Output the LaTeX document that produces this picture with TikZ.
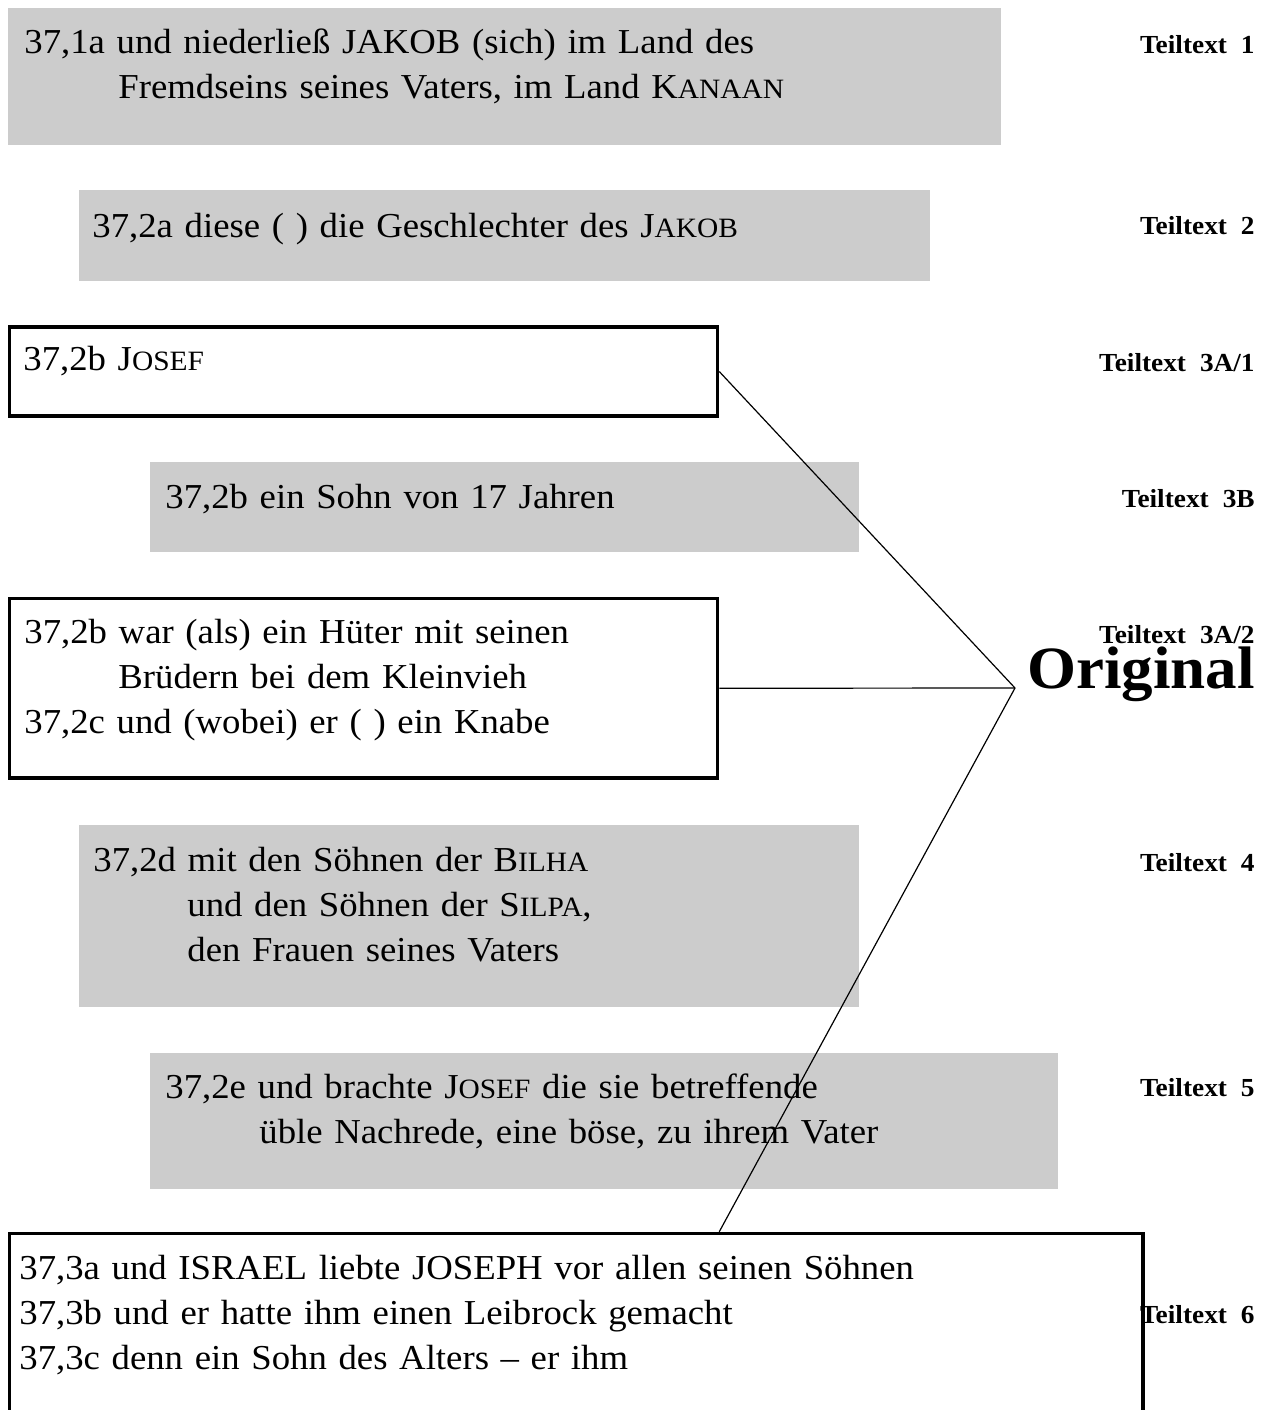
\documentclass[tikz,border=0pt]{standalone}
\usepackage{fontspec}
\setmainfont{Liberation Serif}[WordSpace=1.8,FakeStretch=1.05]
\usetikzlibrary{calc}
\definecolor{feldgrau}{gray}{0.8}
\newcommand{\kap}[2]{#1{\fontsize{14}{22.5}\selectfont #2}}
\newcommand{\teil}[1]{Teiltext\hspace{7pt}#1}
\newcommand{\weiter}{\hspace*{47pt}}

\begin{document}
\begin{tikzpicture}[x=0.5pt,y=-0.5pt,font=\fontsize{17.5}{22.5}\selectfont]
  \tikzset{
    feld/.style={fill=feldgrau,inner sep=0pt,outer sep=0pt,anchor=north west},
    rahmen/.style={draw,line width=1.75pt,inner sep=0pt,anchor=north west},
    zeilen/.style={anchor=base west,inner sep=0pt,align=left,text width=520pt},
    teil/.style={anchor=base east,inner sep=0pt,font=\bfseries\fontsize{13}{15}\selectfont},
    linie/.style={line width=0.6pt}
  }
  \useasboundingbox (0,0) rectangle (1274,1410);

  % grey and framed boxes, top to bottom
  \node[feld,minimum width=496.5pt,minimum height=68.5pt] (b1) at (8,8) {};
  \node[feld,minimum width=425.5pt,minimum height=45.5pt] (b2) at (79,190) {};
  \node[rahmen,minimum width=354pt,minimum height=44.5pt] (b3) at (7.75,325.25) {};
  \node[feld,minimum width=354.5pt,minimum height=45pt] (b4) at (150,462) {};
  \node[rahmen,minimum width=354pt,minimum height=89.75pt] (b5) at (7.75,596.75) {};
  \node[feld,minimum width=390pt,minimum height=91pt] (b6) at (79,825) {};
  \node[feld,minimum width=454pt,minimum height=68pt] (b7) at (150,1053) {};
  \node[rahmen,minimum width=566.75pt,minimum height=130pt] (b8) at (7.75,1231.75) {};

  % verse texts
  \node[zeilen] (t1) at (24,53)
    {37,1a und niederließ JAKOB (sich) im Land des\\
     \weiter Fremdseins seines Vaters, im Land \kap{K}{ANAAN}};
  \node[zeilen] (t2) at (92,237)
    {37,2a diese ( ) die Geschlechter des \kap{J}{AKOB}};
  \node[zeilen] (t3) at (23,370)
    {37,2b \kap{J}{OSEF}};
  \node[zeilen] (t4) at (165,508)
    {37,2b ein Sohn von 17 Jahren};
  \node[zeilen] (t5) at (24,643)
    {37,2b war (als) ein Hüter mit seinen\\
     \weiter Brüdern bei dem Kleinvieh\\
     37,2c und (wobei) er ( ) ein Knabe};
  \node[zeilen] (t6) at (93,871)
    {37,2d mit den Söhnen der \kap{B}{ILHA}\\
     \weiter und den Söhnen der \kap{S}{ILPA},\\
     \weiter den Frauen seines Vaters};
  \node[zeilen] (t7) at (165,1098)
    {37,2e und brachte \kap{J}{OSEF} die sie betreffende\\
     \weiter üble Nachrede, eine böse, zu ihrem Vater};
  \node[zeilen] (t8) at (19,1279)
    {37,3a und ISRAEL liebte JOSEPH vor allen seinen Söhnen\\
     37,3b und er hatte ihm einen Leibrock gemacht\\
     37,3c denn ein Sohn des Alters – er ihm};

  % labels on the right
  \node[teil] (l1) at (1255,53) {\teil{1}};
  \node[teil] (l2) at (1255,234) {\teil{2}};
  \node[teil] (l3a) at (1255,371) {\teil{3A/1}};
  \node[teil] (l3b) at (1255,507) {\teil{3B}};
  \node[teil] (l3c) at (1255,643) {\teil{3A/2}};
  \node[teil,font=\bfseries\fontsize{30}{32}\selectfont] (orig) at (1255,688) {Original};
  \node[teil] (l4) at (1255,871) {\teil{4}};
  \node[teil] (l5) at (1255,1096) {\teil{5}};
  \node[teil] (l6) at (1255,1323) {\teil{6}};

  % connectors to the original
  \coordinate (spitze) at (1015,688);
  \draw[linie] (b3.east) -- (spitze);
  \draw[linie] (b5.east) -- (spitze);
  \draw[linie] (spitze) -- (b5.east |- b8.north);
\end{tikzpicture}
\end{document}
